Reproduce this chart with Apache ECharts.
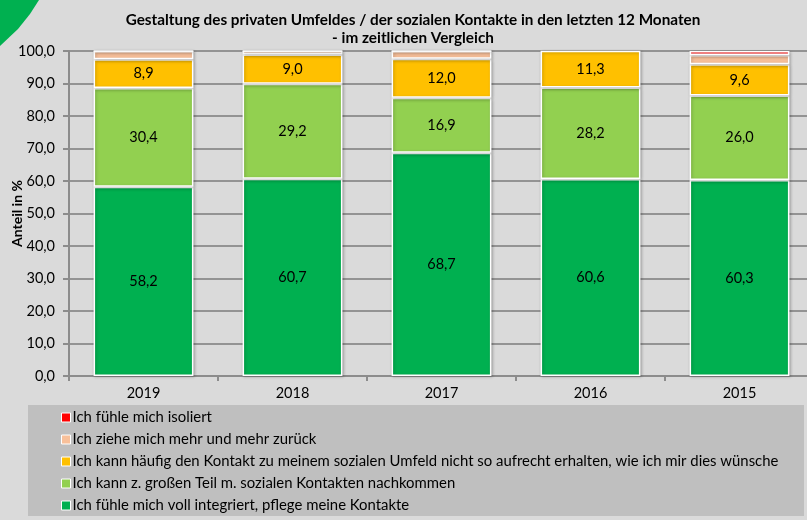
<!DOCTYPE html>
<html>
<head>
<meta charset="utf-8">
<script src="https://cdn.jsdelivr.net/npm/echarts@6/dist/echarts.min.js"></script>
<style>
  html, body { margin: 0; padding: 0; background: #dadada; }
  #chart { width: 807px; height: 520px; }
</style>
</head>
<body>
<div id="chart"></div>
<script>
// Survey years (x axis)
const years = ['2019', '2018', '2017', '2016', '2015'];

// Shares in percent per answer, stacked bottom to top
const vollIntegriert = [58.2, 60.7, 68.7, 60.6, 60.3];
const grossenTeil = [30.4, 29.2, 16.9, 28.2, 26.0];
const haeufigNicht = [8.9, 9.0, 12.0, 11.3, 9.6];
const zurueck = [2.5, 1.1, 2.4, 0, 2.9];
const isoliert = [0, 0, 0, 0, 1.2];

// Y axis tick values
const yTicks = [0, 10, 20, 30, 40, 50, 60, 70, 80, 90, 100];

const names = {
  voll: 'Ich fühle mich voll integriert, pflege meine Kontakte',
  gross: 'Ich kann z. großen Teil m. sozialen Kontakten nachkommen',
  haeufig: 'Ich kann häufig den Kontakt zu meinem sozialen Umfeld nicht so aufrecht erhalten, wie ich mir dies wünsche',
  zurueck: 'Ich ziehe mich mehr und mehr zurück',
  isoliert: 'Ich fühle mich isoliert'
};

const fmt = v => v.toFixed(1).replace('.', ',');
const font = 'Lato, "Open Sans", "Liberation Sans", sans-serif';

function barSeries(name, data, color, showLabel) {
  return {
    name: name,
    type: 'bar',
    stack: 'total',
    data: data,
    barCategoryGap: '33%',
    itemStyle: {
      color: color,
      borderColor: '#ffffff',
      borderWidth: 1.5,
      shadowColor: 'rgba(0,0,0,0.25)',
      shadowBlur: 3,
      shadowOffsetX: 1,
      shadowOffsetY: 1
    },
    label: {
      show: showLabel,
      position: 'inside',
      color: '#000',
      fontFamily: font,
      fontSize: 14.5,
      formatter: p => fmt(p.value)
    },
    emphasis: { disabled: true }
  };
}

const chart = echarts.init(document.getElementById('chart'));
chart.setOption({
  backgroundColor: '#dadada',
  animation: false,
  title: {
    text: 'Gestaltung des privaten Umfeldes / der sozialen Kontakte in den letzten 12 Monaten\n- im zeitlichen Vergleich',
    left: 408,
    top: 6,
    textAlign: 'center',
    textStyle: {
      fontFamily: font,
      fontSize: 15.3,
      fontWeight: 'bold',
      color: '#000',
      lineHeight: 18
    }
  },
  graphic: [
    {
      type: 'polygon',
      shape: { points: [[0, 0], [39, 0], [30, 14], [18, 29], [0, 46]] },
      style: { fill: '#00b050' },
      z: 0
    },
    {
      type: 'rect',
      shape: { x: 28, y: 405, width: 776, height: 111 },
      style: { fill: '#bfbfbf' },
      z: 0
    }
  ],
  legend: {
    orient: 'vertical',
    left: 61,
    top: 410,
    height: 120,
    padding: 0,
    itemWidth: 9,
    itemHeight: 9,
    itemGap: 7,
    icon: 'rect',
    textStyle: { fontFamily: font, fontSize: 14.9, lineHeight: 14, color: '#000', padding: [0, 0, 0, -3] },
    data: [names.isoliert, names.zurueck, names.haeufig, names.gross, names.voll],
    itemStyle: { borderColor: '#fff', borderWidth: 1 }
  },
  grid: { left: 69, top: 51, width: 745, height: 325, outerBoundsMode: 'none' },
  xAxis: {
    type: 'category',
    data: years,
    axisLine: { lineStyle: { color: '#8c8c8c', width: 2 } },
    axisTick: { show: true, length: 5, lineStyle: { color: '#8c8c8c', width: 2 } },
    axisLabel: { fontFamily: font, fontSize: 14.5, color: '#000', margin: 10 }
  },
  yAxis: {
    type: 'value',
    min: 0,
    max: 100,
    interval: 10,
    name: 'Anteil in %',
    nameLocation: 'middle',
    nameGap: 45,
    nameMoveOverlap: false,
    nameTextStyle: { fontFamily: font, fontSize: 14, fontWeight: 'bold', color: '#000' },
    axisLine: { show: true, lineStyle: { color: '#8c8c8c', width: 2 } },
    axisTick: { show: true, length: 6, lineStyle: { color: '#8c8c8c', width: 2 } },
    splitLine: { lineStyle: { color: '#939393', width: 2 } },
    axisLabel: {
      fontFamily: font,
      fontSize: 14.5,
      color: '#000',
      margin: 14,
      formatter: v => yTicks.includes(v) ? fmt(v) : ''
    }
  },
  series: [
    barSeries(names.voll, vollIntegriert, '#00b050', true),
    barSeries(names.gross, grossenTeil, '#92d050', true),
    barSeries(names.haeufig, haeufigNicht, '#ffc000', true),
    barSeries(names.zurueck, zurueck, '#f8c09a', false),
    barSeries(names.isoliert, isoliert, '#ff0000', false)
  ]
});
</script>
</body>
</html>
